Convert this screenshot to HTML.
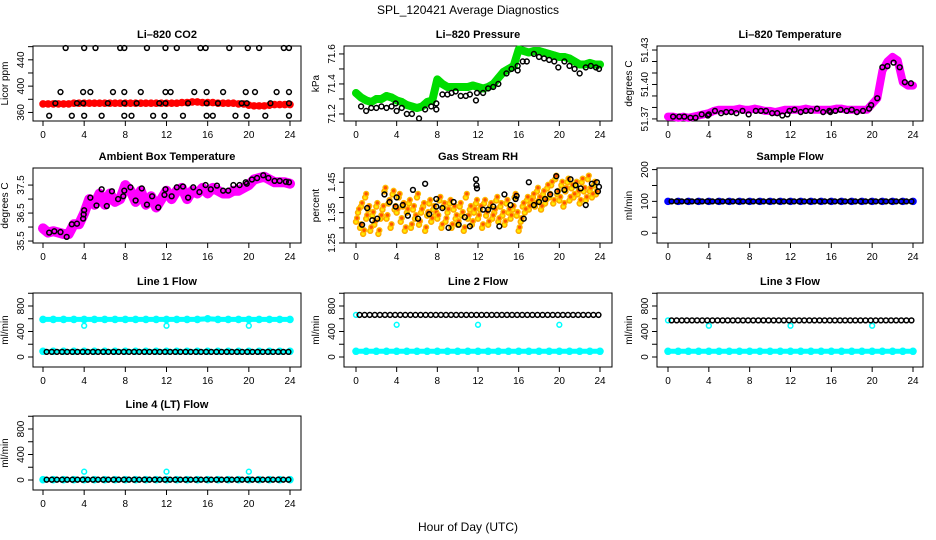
<!DOCTYPE html>
<html><head><meta charset="utf-8">
<style>
html,body{margin:0;padding:0;background:#fff;}
svg{display:block;font-family:"Liberation Sans",sans-serif;}
</style></head>
<body>
<svg id="fig" width="936" height="540" viewBox="0 0 936 540" xmlns="http://www.w3.org/2000/svg">
<text x="468" y="14" text-anchor="middle" font-size="12">SPL_120421  Average Diagnostics</text>
<text x="468" y="531" text-anchor="middle" font-size="12">Hour of Day (UTC)</text>
</svg>
<script>
// ---------- DATA ----------
const xTicks = [0,4,8,12,16,20,24];
const halfHours = [0,0.5,1,1.5,2,2.5,3,3.5,4,4.5,5,5.5,6,6.5,7,7.5,8,8.5,9,9.5,10,10.5,11,11.5,12,12.5,13,13.5,14,14.5,15,15.5,16,16.5,17,17.5,18,18.5,19,19.5,20,20.5,21,21.5,22,22.5,23,23.5,24];

// CO2
const co2Band = [373,373,373,373,373,373,374,374,374,374,374,374,374,374,374,374,374,374,374,374,374,374,374,374,374,374,374,375,375,376,376,375,375,375,374,374,374,374,373,373,371,370,370,370,371,372,372,372,372];
const co2BlackX = [2.2,4,5.1,7.5,7.9,10.1,11.9,13,15.3,15.8,18.1,19.9,21,23.4,23.9, 1.7,3.9,4.6,6.8,7.9,9.5,11.9,12.4,14.7,15.9,17.5,19.7,20.6,22.7,23.9, 1.2,3.3,3.9,6.3,7.9,9.1,11.3,11.9,14.1,15.9,17,19.3,19.8,22.1,23.9, 0.6,2.8,4,5.7,7.9,8.6,10.7,11.8,13.6,15.9,16.5,18.7,19.8,21.6,23.9];
const co2BlackY = [458,458,458,458,458,458,458,458,458,458,458,458,458,458,458, 391,391,391,391,391,391,391,391,391,391,391,391,391,391,391, 374,374,374,374,374,374,374,374,374,374,374,374,374,374,374, 355,355,355,355,355,355,355,355,355,355,355,355,355,355,355];
const co2Ticks = [360,380,400,420,440,460];
const co2Labels = [360,400,440];

// Pressure
const presBand = [71.34,71.31,71.29,71.28,71.3,71.3,71.32,71.31,71.29,71.28,71.26,71.25,71.24,71.25,71.28,71.29,71.43,71.4,71.38,71.38,71.38,71.38,71.38,71.39,71.38,71.37,71.38,71.4,71.44,71.48,71.5,71.52,71.63,71.62,71.61,71.62,71.62,71.61,71.6,71.59,71.58,71.58,71.57,71.55,71.53,71.53,71.54,71.53,71.53];
const presBlackX = [0.5,1,1.5,2,2.5,3,3.5,3.9,4,4.5,5,5.5,6.2,6.8,7.4,7.9,7.9,8.5,9,9.4,9.8,10.3,10.8,11.2,11.8,11.9,12.5,13,13.5,14,14.8,15.3,15.9,15.9,16.4,16.8,17.5,18,18.5,19,19.5,19.9,20.5,21,21.5,22,22.6,23.1,23.6,23.9];
const presBlackY = [71.25,71.22,71.24,71.24,71.25,71.24,71.25,71.27,71.22,71.24,71.2,71.2,71.17,71.23,71.25,71.27,71.23,71.33,71.33,71.34,71.35,71.32,71.32,71.33,71.29,71.34,71.34,71.37,71.38,71.4,71.47,71.5,71.49,71.52,71.55,71.55,71.6,71.58,71.57,71.56,71.55,71.51,71.55,71.52,71.5,71.47,71.51,71.52,71.51,71.5];
const presTicks = [71.2,71.3,71.4,71.5,71.6];
const presLabels = [71.2,71.4,71.6];

// Li-820 temperature
const tempBand = [51.372,51.372,51.371,51.372,51.371,51.372,51.373,51.374,51.375,51.377,51.378,51.378,51.378,51.378,51.379,51.378,51.378,51.379,51.378,51.377,51.377,51.376,51.377,51.378,51.378,51.378,51.378,51.379,51.378,51.378,51.378,51.378,51.378,51.379,51.379,51.378,51.378,51.378,51.378,51.378,51.383,51.388,51.412,51.42,51.424,51.421,51.402,51.399,51.399];
const tempBlackX = [0.5,1.1,1.6,2.2,2.7,3.3,3.9,4,4.6,5.2,5.7,6.2,6.7,7.3,7.9,8.6,9.1,9.6,10.2,10.7,11.2,11.7,11.9,12.4,13,13.5,14,14.6,15.2,15.8,15.9,16.4,16.9,17.5,18,18.5,19.1,19.7,19.9,20.5,21,21.5,22.1,22.7,23.2,23.8];
const tempBlackY = [51.372,51.372,51.372,51.371,51.371,51.374,51.373,51.374,51.377,51.375,51.376,51.376,51.375,51.377,51.374,51.377,51.377,51.377,51.375,51.375,51.373,51.374,51.377,51.378,51.376,51.377,51.377,51.379,51.376,51.377,51.376,51.377,51.378,51.377,51.378,51.376,51.377,51.379,51.382,51.388,51.415,51.416,51.419,51.415,51.402,51.401];
const tempTicks = [51.37,51.38,51.39,51.40,51.41,51.42,51.43];
const tempLabels = [51.37,51.40,51.43];

// Ambient box temperature
const ambBand = [35.95,35.8,35.85,35.8,35.75,35.75,36.1,36.1,36.5,37.0,36.8,37.2,36.8,37.2,36.9,37.0,37.5,37.3,36.9,37.3,36.8,37.1,36.7,37.0,37.3,37.0,37.3,37.4,37.0,37.3,37.2,37.4,37.2,37.4,37.3,37.2,37.2,37.3,37.3,37.4,37.5,37.7,37.75,37.8,37.7,37.6,37.6,37.6,37.55];
const ambBlackX = [0.6,1.1,1.7,2.3,2.8,3.3,3.9,3.95,4,4.6,5.2,5.7,6.2,6.7,7.3,7.8,7.9,8.5,9.0,9.6,10.1,10.6,11.2,11.8,11.9,12.5,13,13.6,14.1,14.6,15.2,15.8,16.3,16.9,17.5,18,18.5,19.1,19.7,19.8,20.3,20.8,21.4,21.9,22.5,23,23.6,23.9];
const ambBlackY = [35.8,35.85,35.82,35.65,36.1,36.12,36.3,36.45,36.6,37.05,36.77,37.35,36.75,37.28,37.0,37.1,37.3,37.42,36.95,37.38,36.8,37.1,36.7,37.15,37.35,37.1,37.42,37.45,37.05,37.42,37.25,37.5,37.35,37.48,37.3,37.3,37.5,37.5,37.6,37.55,37.7,37.75,37.85,37.75,37.65,37.65,37.62,37.6];
const ambTicks = [35.5,36.0,36.5,37.0,37.5];
const ambLabels = [35.5,36.5,37.5];

// Gas stream RH
const rhColX = [0,0.2,0.4,0.5,0.7,0.9,1,1.2,1.4,1.6,1.8,2,2.2,2.4,2.6,2.8,3,3.2,3.4,3.6,3.8,4,4.2,4.4,4.6,4.8,5,5.2,5.4,5.6,5.8,6,6.2,6.4,6.6,6.8,7,7.2,7.4,7.6,7.8,8,8.2,8.4,8.6,8.8,9,9.2,9.4,9.6,9.8,10,10.2,10.4,10.6,10.8,11,11.2,11.4,11.6,11.8,12,12.2,12.4,12.6,12.8,13,13.2,13.4,13.6,13.8,14,14.2,14.4,14.6,14.8,15,15.2,15.4,15.6,15.8,16,16.2,16.4,16.6,16.8,17,17.2,17.4,17.6,17.8,18,18.2,18.4,18.6,18.8,19,19.2,19.4,19.6,19.8,20,20.2,20.4,20.6,20.8,21,21.2,21.4,21.6,21.8,22,22.2,22.4,22.6,22.8,23,23.2,23.4,23.6,23.8,24];
const rhColY = [1.32,1.35,1.3,1.37,1.28,1.4,1.33,1.36,1.29,1.34,1.31,1.37,1.28,1.33,1.36,1.42,1.33,1.38,1.3,1.41,1.36,1.35,1.4,1.32,1.37,1.29,1.35,1.38,1.3,1.36,1.33,1.4,1.31,1.35,1.37,1.29,1.34,1.38,1.32,1.36,1.34,1.33,1.39,1.3,1.37,1.32,1.35,1.38,1.3,1.36,1.33,1.31,1.37,1.34,1.29,1.4,1.33,1.36,1.31,1.35,1.38,1.33,1.36,1.3,1.38,1.34,1.31,1.37,1.33,1.35,1.39,1.32,1.37,1.34,1.31,1.38,1.35,1.33,1.36,1.4,1.34,1.29,1.32,1.37,1.35,1.39,1.36,1.38,1.4,1.37,1.42,1.39,1.36,1.41,1.38,1.43,1.4,1.44,1.38,1.46,1.41,1.39,1.44,1.37,1.42,1.45,1.39,1.43,1.4,1.44,1.41,1.38,1.45,1.42,1.39,1.46,1.42,1.4,1.44,1.41];
const rhBlackX = [0.6,1.1,1.6,2.1,2.8,3.3,3.9,4,4.6,5.1,5.6,6.1,6.8,7.2,7.9,7.9,8.5,9.1,9.6,10.1,10.7,11.2,11.8,11.85,11.9,12.5,13,13.5,14.1,14.6,15.2,15.7,15.8,16.5,17,17.5,18,18.6,19.1,19.7,19.8,20.5,21.1,21.6,22.1,22.6,23.2,23.7,23.8,23.9];
const rhBlackY = [1.31,1.365,1.325,1.33,1.41,1.385,1.37,1.4,1.375,1.34,1.425,1.33,1.445,1.345,1.37,1.395,1.365,1.3,1.385,1.31,1.335,1.305,1.46,1.44,1.43,1.36,1.36,1.37,1.305,1.41,1.375,1.395,1.405,1.33,1.45,1.375,1.385,1.395,1.41,1.47,1.42,1.425,1.46,1.44,1.43,1.375,1.445,1.45,1.42,1.435];
const rhTicks = [1.25,1.30,1.35,1.40,1.45];
const rhLabels = [1.25,1.35,1.45];

// Sample flow
const sampleBand = [100,100,100,100,100,100,100,100,100,100,100,100,100,100,100,100,100,100,100,100,100,100,100,100,100];
const sampleBlack = [100,100,100,100,100,100,100,100,100,100,100,100,100,100,100,100,100,100,100,100,100,100,100,100,100,100,100,100,100,100,100,100,100,100,100,100,100,100,100,100,100,100,100,100,100,100,100,100];
const sampleTicks = [0,50,100,150,200];
const sampleLabels = [0,100,200];

// Line flows
const hourly = [0,1,2,3,4,5,6,7,8,9,10,11,12,13,14,15,16,17,18,19,20,21,22,23,24];
const dipHours = [4,12,20];
const line1High = [590,590,590,590,590,590,590,590,590,590,590,590,590,590,590,590,600,590,590,590,590,590,590,590,590];
const line1Low = [90,90,90,90,90,90,90,90,90,90,90,90,90,90,90,90,90,90,90,90,90,90,90,90,90];
const line1Black = [80,80,80,80,80,80,80,80,80,80,80,80,80,80,80,80,80,80,80,80,80,80,80,80,80,80,80,80,80,80,80,80,80,80,80,80,80,80,80,80,80,80,80,80,80,80,80,80];
const line1Dip = [490,490,490];
const line2Low = [90,90,90,90,90,90,90,90,90,90,90,90,90,90,90,90,90,90,90,90,90,90,90,90,90];
const line2Black = [660,660,660,660,660,660,660,660,660,660,660,660,660,660,660,660,660,660,660,660,660,660,660,660,660,660,660,660,660,660,660,660,660,660,660,660,660,660,660,660,660,660,660,660,660,660,660,660];
const line2Dip = [505,505,505];
const line3Low = [90,90,90,90,90,90,90,90,90,90,90,90,90,90,90,90,90,90,90,90,90,90,90,90,90];
const line3Black = [575,575,575,575,575,575,575,575,575,575,575,575,575,575,575,575,575,575,575,575,575,575,575,575,575,575,575,575,575,575,575,575,575,575,575,575,575,575,575,575,575,575,575,575,575,575,575,575];
const line3Dip = [490,490,490];
const line4Low = [5,5,5,5,5,5,5,5,5,5,5,5,5,5,5,5,5,5,5,5,5,5,5,5,5];
const line4Black = [5,5,5,5,5,5,5,5,5,5,5,5,5,5,5,5,5,5,5,5,5,5,5,5,5,5,5,5,5,5,5,5,5,5,5,5,5,5,5,5,5,5,5,5,5,5,5,5];
const line4Dip = [130,130,130];
const flowTicks = [0,200,400,600,800,1000];
const flowLabels = [0,400,800];

// ---------- DRAWING ----------
const NS = "http://www.w3.org/2000/svg";
const svg = document.getElementById('fig');
const cols = [{L:33,R:301,x0:43,x24:290},{L:344,R:612,x0:356,x24:600},{L:657,R:923,x0:668,x24:913}];
const rows = [{T:46,B:121},{T:168,B:243},{T:293,B:367},{T:416,B:490}];
function mk(tag, attrs, parent){const e=document.createElementNS(NS,tag);for(const k in attrs)e.setAttribute(k,attrs[k]);(parent||svg).appendChild(e);return e;}

function panel(name, title, ylab, c, r, ymin, ymax, yt, yl, fmt){
  const col=cols[c], row=rows[r];
  const g=mk('g',{});
  
  
  const xs=h=>col.x0+(col.x24-col.x0)*h/24;
  const ys=v=>row.B-(v-ymin)/(ymax-ymin)*(row.B-row.T);
  const box=mk('rect',{x:col.L,y:row.T,width:col.R-col.L,height:row.B-row.T,fill:'none',stroke:'#000','stroke-width':1},g);
  
  
  const t=mk('text',{x:(col.L+col.R)/2,y:row.T-8,'text-anchor':'middle','font-size':11,'font-weight':'bold'},g);
  t.textContent=title;
  
  
  mk('line',{x1:xs(0),x2:xs(24),y1:row.B,y2:row.B,stroke:'#000'},g);
  xTicks.forEach(h=>{
    mk('line',{x1:xs(h),x2:xs(h),y1:row.B,y2:row.B+5,stroke:'#000'},g);
    const tl=mk('text',{x:xs(h),y:row.B+17,'text-anchor':'middle','font-size':10},g);
    tl.textContent=h;
    
    
  });
  yt.forEach(v=>{mk('line',{x1:col.L-5,x2:col.L,y1:ys(v),y2:ys(v),stroke:'#000'},g);});
  yl.forEach(v=>{
    const tl=mk('text',{x:col.L-9,y:ys(v),'text-anchor':'middle','font-size':10,transform:`rotate(-90 ${col.L-9} ${ys(v)})`},g);
    tl.textContent=fmt?fmt(v):v;
    
    
  });
  const yx=col.L-25, ym=(row.T+row.B)/2;
  const yt2=mk('text',{x:yx,y:ym,'text-anchor':'middle','font-size':10,transform:`rotate(-90 ${yx} ${ym})`},g);
  yt2.textContent=ylab;
  
  
  return {g,xs,ys};
}
function band(p, xsArr, vals, color, w, name){
  let d='';
  vals.forEach((v,i)=>{d+=(i?'L':'M')+p.xs(xsArr[i]).toFixed(1)+' '+p.ys(v).toFixed(1);});
  const pl=mk('path',{d,fill:'none',stroke:color,'stroke-width':w,'stroke-linejoin':'round','stroke-linecap':'round'},p.g);
  
  
  vals.forEach((v,i)=>{
    const c=mk('circle',{cx:p.xs(xsArr[i]),cy:p.ys(v),r:2.8,fill:'none',stroke:color,'stroke-width':2},p.g);
    
    
  });
}
function pts(p, xsArr, vals, color, name, fill, sw){
  vals.forEach((v,i)=>{
    const c=mk('circle',{cx:p.xs(xsArr[i]),cy:p.ys(v),r:2.4,fill:fill||'none',stroke:color,'stroke-width':sw||1.5},p.g);
    
    
  });
}
const blackHalf = halfHours.slice(1).map(h=>h-0.25+0.1);

// CO2
let p=panel('co2','Li\u2013820 CO2','Licor ppm',0,0,347,461,co2Ticks,co2Labels);
band(p,halfHours,co2Band,'#ff0000',6,'co2-red-series');
pts(p,co2BlackX,co2BlackY,'#000','co2-black-point');
// Pressure
p=panel('pressure','Li\u2013820 Pressure','kPa',1,0,71.153,71.653,presTicks,presLabels,v=>v.toFixed(1));
band(p,halfHours,presBand,'#00dd00',8,'pressure-green-series');
pts(p,presBlackX,presBlackY,'#000','pressure-black-point');
// Temperature
p=panel('li820-temp','Li\u2013820 Temperature','degrees C',2,0,51.3682,51.4335,tempTicks,tempLabels,v=>v.toFixed(2));
band(p,halfHours,tempBand,'#ff00ff',8,'temp-magenta-series');
pts(p,tempBlackX,tempBlackY,'#000','temp-black-point');
// Ambient
p=panel('ambient','Ambient Box Temperature','degrees C',0,1,35.43,38.11,ambTicks,ambLabels,v=>v.toFixed(1));
band(p,halfHours,ambBand,'#ff00ff',10,'ambient-magenta-series');
pts(p,ambBlackX,ambBlackY,'#000','ambient-black-point');
// RH
p=panel('rh','Gas Stream RH','percent',1,1,1.25,1.497,rhTicks,rhLabels,v=>v.toFixed(2));
pts(p,rhColX,rhColY,'#ffaa00','rh-orange-point','#ffee00',1.6);
pts(p,rhColX.map(x=>x+0.1),rhColY.map(y=>y+0.012),'#ffbb00','rh-orange-point','#ff5500',1.4);
pts(p,rhBlackX,rhBlackY,'#000','rh-black-point');
// Sample flow
p=panel('sample-flow','Sample Flow','ml/min',2,1,-31,205,sampleTicks,sampleLabels);
band(p,hourly,sampleBand,'#0000ff',4,'sample-blue-series');
pts(p,blackHalf,sampleBlack,'#000','sample-black-point');
// Line flows
const FMIN=-157, FMAX=1004;
p=panel('line1','Line 1 Flow','ml/min',0,2,FMIN,FMAX,flowTicks,flowLabels);
band(p,hourly,line1High,'#00ffff',5,'line1-cyan-high');
band(p,hourly,line1Low,'#00ffff',4,'line1-cyan-low');
pts(p,dipHours,line1Dip,'#00ffff','line1-cyan-dip');
pts(p,blackHalf,line1Black,'#000','line1-black-point');
p=panel('line2','Line 2 Flow','ml/min',1,2,FMIN,FMAX,flowTicks,flowLabels);
band(p,hourly,line2Low,'#00ffff',5,'line2-cyan-low');
pts(p,[0],[660],'#00ffff','line2-cyan-start');
pts(p,dipHours,line2Dip,'#00ffff','line2-cyan-dip');
pts(p,blackHalf,line2Black,'#000','line2-black-point');
p=panel('line3','Line 3 Flow','ml/min',2,2,FMIN,FMAX,flowTicks,flowLabels);
band(p,hourly,line3Low,'#00ffff',5,'line3-cyan-low');
pts(p,[0],[575],'#00ffff','line3-cyan-start');
pts(p,dipHours,line3Dip,'#00ffff','line3-cyan-dip');
pts(p,blackHalf,line3Black,'#000','line3-black-point');
p=panel('line4','Line 4 (LT) Flow','ml/min',0,3,FMIN,FMAX,flowTicks,flowLabels);
band(p,hourly,line4Low,'#00ffff',4,'line4-cyan-low');
pts(p,dipHours,line4Dip,'#00ffff','line4-cyan-dip');
pts(p,blackHalf,line4Black,'#000','line4-black-point');
</script>
</body></html>
